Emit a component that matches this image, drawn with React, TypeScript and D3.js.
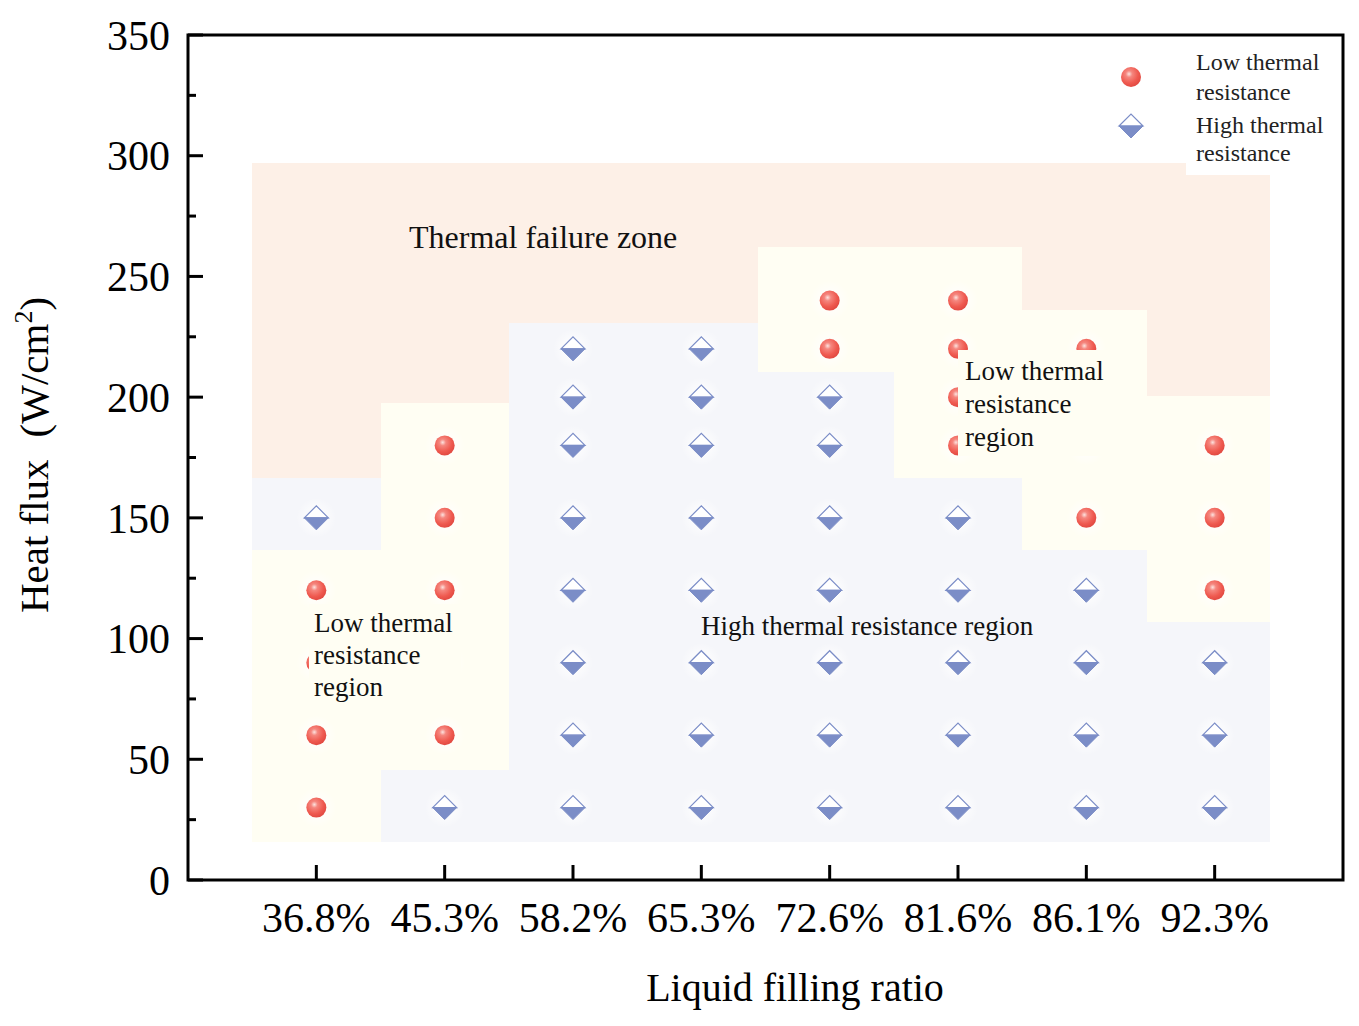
import React from 'react'
import * as d3 from 'd3'

// Liquid filling ratios (x categories)
const ratios = ['36.8%', '45.3%', '58.2%', '65.3%', '72.6%', '81.6%', '86.1%', '92.3%']
const yTicks = [0, 50, 100, 150, 200, 250, 300, 350]

// Measured heat flux points, per filling ratio
const lowResistance = [
  [120, 90, 60, 30],
  [180, 150, 120, 90, 60],
  [],
  [],
  [240, 220],
  [240, 220, 200, 180],
  [220, 200, 180, 150],
  [180, 150, 120],
]
const highResistance = [
  [150],
  [30],
  [220, 200, 180, 150, 120, 90, 60, 30],
  [220, 200, 180, 150, 120, 90, 60, 30],
  [200, 180, 150, 120, 90, 60, 30],
  [150, 120, 90, 60, 30],
  [120, 90, 60, 30],
  [90, 60, 30],
]

// Shaded regions (heat flux bounds per column)
const columnEdges = [-0.5, 0.5, 1.5, 2.5, 3.44, 4.5, 5.5, 6.47, 7.43]
const failureTop = 297
const failureBottom = [166.5, 197.6, 230.7, 230.7, 262, 262, 236, 200.5]
const lowBand: ([number, number] | null)[] = [
  [15.7, 136.7], [45.6, 197.6], null, null, [210.4, 262], [166.5, 262], [136.7, 236], [107, 200.5],
]
const highBand: [number, number][] = [
  [136.7, 166.5], [15.7, 45.6], [15.7, 230.7], [15.7, 230.7], [15.7, 210.4], [15.7, 166.5], [15.7, 136.7], [15.7, 107],
]

const W = 1359
const H = 1026
const plot = { left: 188, right: 1343, top: 35, bottom: 880 }
const serif = '"Liberation Serif", "Times New Roman", serif'

const PEACH = '#fdf0e7'
const YELLOW = '#fffef3'
const BLUE_BG = '#f5f6fa'
const DIAMOND = '#7b8dc7'

function Diamond({ cx, cy, r = 12 }: { cx: number; cy: number; r?: number }) {
  return (
    <g transform={`translate(${cx},${cy})`}>
      <path d={`M${-r},0 L0,${-r} L${r},0 Z`} fill="#ffffff" stroke={DIAMOND} strokeWidth={1.2} />
      <path d={`M${-r},0 L${r},0 L0,${r} Z`} fill={DIAMOND} stroke={DIAMOND} strokeWidth={1} />
    </g>
  )
}

function Ball({ cx, cy, r = 10 }: { cx: number; cy: number; r?: number }) {
  return <circle cx={cx} cy={cy} r={r} fill="url(#ballGrad)" />
}

export default function App() {
  const x = d3.scaleLinear().domain([-1, 8]).range([plot.left, plot.right])
  const y = d3.scaleLinear().domain([0, 350]).range([plot.bottom, plot.top])
  const minorTicks = d3.range(25, 350, 50)

  const rect = (i: number, lo: number, hi: number, fill: string, key: string) => (
    <rect
      key={key}
      x={x(columnEdges[i])}
      y={y(hi)}
      width={x(columnEdges[i + 1]) - x(columnEdges[i])}
      height={y(lo) - y(hi)}
      fill={fill}
      shapeRendering="crispEdges"
    />
  )

  const allPoints = [
    ...lowResistance.flatMap((vals, i) => vals.map(v => ({ i, v, low: true }))),
    ...highResistance.flatMap((vals, i) => vals.map(v => ({ i, v, low: false }))),
  ]

  return (
    <svg width={W} height={H} style={{ position: 'absolute', left: 0, top: 0, background: '#fff' }}>
      <defs>
        <radialGradient id="ballGrad" cx="0.4" cy="0.35" r="0.65">
          <stop offset="0%" stopColor="#fde3df" />
          <stop offset="25%" stopColor="#f5877f" />
          <stop offset="70%" stopColor="#ef5a50" />
          <stop offset="100%" stopColor="#e24a42" />
        </radialGradient>
        <radialGradient id="halo">
          <stop offset="0%" stopColor="#ffffff" stopOpacity={0.8} />
          <stop offset="60%" stopColor="#ffffff" stopOpacity={0.45} />
          <stop offset="100%" stopColor="#ffffff" stopOpacity={0} />
        </radialGradient>
      </defs>

      {/* shaded regions */}
      {ratios.map((_, i) => rect(i, failureBottom[i], failureTop, PEACH, `f${i}`))}
      {highBand.map((b, i) => rect(i, b[0], b[1], BLUE_BG, `h${i}`))}
      {lowBand.map((b, i) => (b ? rect(i, b[0], b[1], YELLOW, `l${i}`) : null))}

      {/* halos behind markers */}
      {allPoints.map((p, k) => (
        <circle key={`halo${k}`} cx={x(p.i)} cy={y(p.v)} r={20} fill="url(#halo)" />
      ))}

      {/* markers */}
      {allPoints.map((p, k) =>
        p.low ? (
          <Ball key={`p${k}`} cx={x(p.i)} cy={y(p.v)} />
        ) : (
          <Diamond key={`p${k}`} cx={x(p.i)} cy={y(p.v)} />
        )
      )}

      {/* region labels */}
      <text x={409} y={248} fontFamily={serif} fontSize={32} fill="#111">
        Thermal failure zone
      </text>

      <rect x={309} y={604} width={152} height={102} fill={YELLOW} />
      <text fontFamily={serif} fontSize={27} fill="#111">
        <tspan x={314} y={632}>Low thermal</tspan>
        <tspan x={314} y={664}>resistance</tspan>
        <tspan x={314} y={696}>region</tspan>
      </text>

      <rect x={958} y={350} width={152} height={106} fill={YELLOW} />
      <text fontFamily={serif} fontSize={27} fill="#111">
        <tspan x={965} y={380}>Low thermal</tspan>
        <tspan x={965} y={413}>resistance</tspan>
        <tspan x={965} y={446}>region</tspan>
      </text>

      <text x={701} y={635} fontFamily={serif} fontSize={27} fill="#111">
        High thermal resistance region
      </text>

      {/* legend */}
      <rect x={1186} y={45} width={152} height={130} fill="#fff" />
      <Ball cx={1131} cy={77} />
      <Diamond cx={1131} cy={126} />
      <text fontFamily={serif} fontSize={24} fill="#222">
        <tspan x={1196} y={70}>Low thermal</tspan>
        <tspan x={1196} y={100}>resistance</tspan>
        <tspan x={1196} y={133}>High thermal</tspan>
        <tspan x={1196} y={161}>resistance</tspan>
      </text>

      {/* frame */}
      <rect
        x={plot.left}
        y={plot.top}
        width={plot.right - plot.left}
        height={plot.bottom - plot.top}
        fill="none"
        stroke="#000"
        strokeWidth={3}
      />

      {/* y axis ticks */}
      {yTicks.map(t => (
        <g key={`yt${t}`}>
          <line x1={plot.left} x2={plot.left + 15} y1={y(t)} y2={y(t)} stroke="#000" strokeWidth={3} />
          <text
            x={170}
            y={y(t)}
            dy="0.35em"
            textAnchor="end"
            fontFamily={serif}
            fontSize={42}
            fill="#000"
          >
            {t}
          </text>
        </g>
      ))}
      {minorTicks.map(t => (
        <line key={`ym${t}`} x1={plot.left} x2={plot.left + 8} y1={y(t)} y2={y(t)} stroke="#000" strokeWidth={3} />
      ))}

      {/* x axis ticks */}
      {ratios.map((r, i) => (
        <g key={`xt${i}`}>
          <line x1={x(i)} x2={x(i)} y1={plot.bottom} y2={plot.bottom - 15} stroke="#000" strokeWidth={3} />
          <text x={x(i)} y={932} textAnchor="middle" fontFamily={serif} fontSize={42} fill="#000">
            {r}
          </text>
        </g>
      ))}

      {/* axis titles */}
      <text x={795} y={1001} textAnchor="middle" fontFamily={serif} fontSize={40} fill="#000">
        Liquid filling ratio
      </text>
      <text
        transform="translate(48,455) rotate(-90)"
        textAnchor="middle"
        fontFamily={serif}
        fontSize={41}
        fill="#000"
      >
        Heat flux
        <tspan dx={22}>(W/cm</tspan>
        <tspan dy={-16} fontSize={26}>2</tspan>
        <tspan dy={16}>)</tspan>
      </text>
    </svg>
  )
}
